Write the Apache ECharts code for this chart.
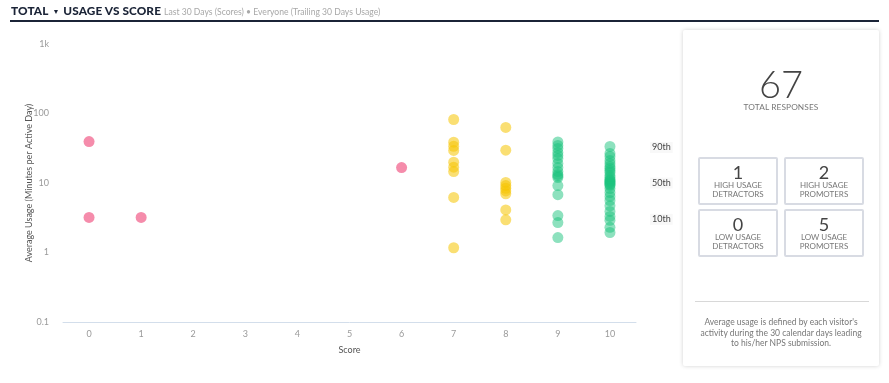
<!DOCTYPE html>
<html>
<head>
<meta charset="utf-8">
<script src="https://cdn.jsdelivr.net/npm/echarts@6/dist/echarts.min.js"></script>
<style>
  html, body { margin: 0; padding: 0; background: #fff; font-family: Lato, "Open Sans", sans-serif; }
  #wrap { position: relative; width: 889px; height: 383px; overflow: hidden; }
  #chart { position: absolute; left: 0; top: 0; width: 889px; height: 383px; }
  #title { position: absolute; left: 11px; top: 2px; height: 14px; line-height: 14px; white-space: nowrap; color: #1b2437; }
  #title span { vertical-align: baseline; line-height: 14px; }
  #title .main { font-weight: 900; font-size: 11.8px; letter-spacing: 0.1px; }
  #title .caret { font-size: 7px; margin: 0 4px 0 4px; position: relative; top: -1px; }
  #title .sub { font-size: 8.6px; color: #a8a8a8; margin-left: 3px; }
  #rule { position: absolute; left: 10px; top: 20px; width: 869px; height: 2px; background: #1b2437; }
  #panel { position: absolute; left: 683px; top: 30px; width: 196px; height: 336px; background: #fff;
           box-shadow: 0 0 4px rgba(0,0,0,0.18); border-radius: 2px; text-align: center; color: #555; }
  #panel .big { position: absolute; left: 0; width: 100%; top: 33px; font-size: 38px; font-weight: 300; color: #444; line-height: 40px; }
  #panel .cap { position: absolute; left: 0; width: 100%; top: 72px; font-size: 8.3px; color: #777; letter-spacing: 0.1px; }
  .box { position: absolute; width: 76px; height: 44px; border: 2px solid #d8dbe3; border-radius: 2px; }
  .box .n { font-size: 18px; color: #444; line-height: 18px; margin-top: 4px; }
  .box .t { font-size: 8px; color: #777; line-height: 9px; letter-spacing: 0px; }
  #hr { position: absolute; left: 12px; top: 271px; width: 174px; height: 1px; background: #d8d8d8; }
  #foot { position: absolute; left: 15px; width: 166px; top: 287px; font-size: 8.5px; line-height: 10.6px; color: #777; }
</style>
</head>
<body>
<div id="wrap">
  <div id="chart"></div>
  <div id="title"><span class="main">TOTAL</span><span class="caret">▼</span><span class="main">USAGE VS SCORE</span><span class="sub">Last 30 Days (Scores) • Everyone (Trailing 30 Days Usage)</span></div>
  <div id="rule"></div>
  <div id="panel">
    <div class="big" id="total"></div>
    <div class="cap">TOTAL RESPONSES</div>
    <div class="box" style="left:15px; top:127px;"><div class="n" id="b0"></div><div class="t">HIGH USAGE<br>DETRACTORS</div></div>
    <div class="box" style="left:101px; top:127px;"><div class="n" id="b1"></div><div class="t">HIGH USAGE<br>PROMOTERS</div></div>
    <div class="box" style="left:15px; top:179px;"><div class="n" id="b2"></div><div class="t">LOW USAGE<br>DETRACTORS</div></div>
    <div class="box" style="left:101px; top:179px;"><div class="n" id="b3"></div><div class="t">LOW USAGE<br>PROMOTERS</div></div>
    <div id="hr"></div>
    <div id="foot">Average usage is defined by each visitor's activity during the 30 calendar days leading to his/her NPS submission.</div>
  </div>
</div>
<script>
// ---- data ----
const scores = ['0','1','2','3','4','5','6','7','8','9','10'];
const yTicks = ['0.1','1','10','100','1k'];
const score0 = [39.5, 3.2];
const score1 = [3.2];
const score6 = [16.7];
const score7 = [82, 38.6, 33.8, 29.4, 19.9, 16.9, 14.6, 6.2, 1.17];
const score8 = [63, 29.7, 10.2, 9.2, 8.4, 7.7, 7.0, 4.1, 2.95];
const score9 = [38.9, 34.7, 31.4, 27.5, 24.9, 22.5, 19.1, 16.7, 14.6, 13.3, 12.6, 12.0, 9.2, 6.8, 3.4, 2.7, 1.64];
const score10 = [33.5, 26.6, 24.1, 21.1, 19.1, 17.3, 16.2, 15.1, 14.2, 12.8, 12.0, 11.2, 10.9, 10.5, 10.2, 9.8, 9.5, 9.2, 8.3, 7.3, 6.4, 5.6, 4.7, 3.9, 3.3, 2.9, 2.3, 1.94];
const percentileNames = ['90th', '50th', '10th'];
const percentileValues = [32.4, 10, 3.0];
const totalResponses = 67;
const boxValues = [1, 2, 0, 5];

document.getElementById('total').textContent = totalResponses;
boxValues.forEach((v, i) => document.getElementById('b' + i).textContent = v);

function pts(score, arr) { return arr.map(v => [score, v]); }
const detractors = [].concat(pts('0', score0), pts('1', score1), pts('6', score6));
const passives = [].concat(pts('7', score7), pts('8', score8));
const promoters = [].concat(pts('9', score9), pts('10', score10));

const chart = echarts.init(document.getElementById('chart'));
chart.setOption({
  animation: false,
  textStyle: { fontFamily: 'Lato, "Open Sans", sans-serif' },
  grid: { left: 63, right: 253, top: 44, bottom: 61 },
  xAxis: {
    type: 'category',
    data: scores,
    boundaryGap: true,
    axisLine: { lineStyle: { color: '#d3deeb', width: 1 } },
    axisTick: { show: false },
    axisLabel: { color: '#9a9a9a', fontSize: 9, margin: 8 },
    splitLine: { show: false },
    name: 'Score',
    nameLocation: 'middle',
    nameGap: 24,
    nameMoveOverlap: false,
    nameTextStyle: { color: '#555', fontSize: 9 }
  },
  yAxis: {
    type: 'log',
    logBase: 10,
    min: 0.1,
    max: 1000,
    axisLine: { show: false },
    axisTick: { show: false },
    splitLine: { show: false },
    axisLabel: {
      color: '#9a9a9a', fontSize: 9, margin: 14,
      formatter: function (v) {
        const idx = Math.round(Math.log10(v)) + 1;
        return yTicks[idx] !== undefined ? yTicks[idx] : String(v);
      }
    },
    name: 'Average Usage (Minutes per Active Day)',
    nameLocation: 'middle',
    nameGap: 29,
    nameMoveOverlap: false,
    nameTextStyle: { color: '#555', fontSize: 9 }
  },
  series: [
    {
      name: 'Detractors', type: 'scatter', symbolSize: 11,
      itemStyle: { color: '#f58cab', opacity: 1 },
      data: detractors
    },
    {
      name: 'Passives', type: 'scatter', symbolSize: 11,
      itemStyle: { color: '#f5c400', opacity: 0.55 },
      data: passives
    },
    {
      name: 'Promoters', type: 'scatter', symbolSize: 11,
      itemStyle: { color: '#1bc47d', opacity: 0.5 },
      data: promoters,
      markLine: {
        silent: true,
        symbol: 'none',
        lineStyle: { color: 'rgba(0,0,0,0)', width: 0 },
        label: {
          show: true, position: 'end', formatter: '{b}', distance: 14,
          color: '#444', fontSize: 9, backgroundColor: '#f8f8f8', padding: [1, 2], opacity: 1
        },
        data: percentileNames.map((n, i) => ({ name: n, yAxis: percentileValues[i] }))
      }
    }
  ]
});
</script>
</body>
</html>
